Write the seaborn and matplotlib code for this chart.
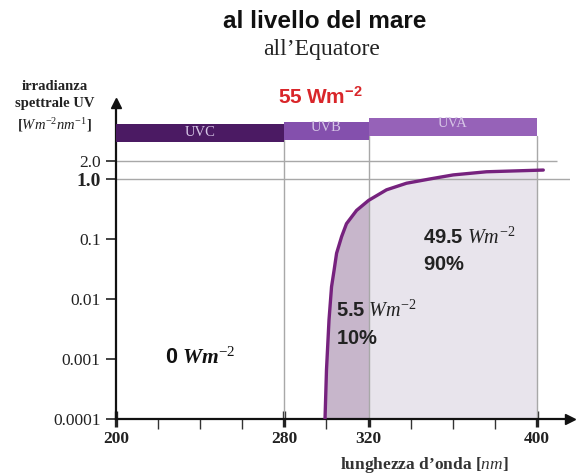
import numpy as np
import pandas as pd
import matplotlib
matplotlib.use("Agg")
import matplotlib.pyplot as plt
import seaborn as sns

# Spectral UV irradiance reaching sea level at the equator
wavelength = [299.3, 300.0, 301.2, 302.4, 303.6, 304.8, 307.2, 309.5, 314.3,
              320.0, 328.5, 338.0, 349.0, 360.2, 376.0, 400.0, 403.0]
irradiance = [0.0001, 0.00066, 0.0045, 0.016, 0.030, 0.058, 0.11, 0.18, 0.30,
              0.44, 0.66, 0.85, 1.0, 1.17, 1.32, 1.40, 1.41]

band_names = ["UVC", "UVB", "UVA"]
band_edges = [(200, 280), (280, 320), (320, 400)]
band_colors = ["#4b1a63", "#8450ad", "#9662b8"]

y_ticks = [0.0001, 0.001, 0.01, 0.1, 1.0, 2.0]
y_tick_labels = ["0.0001", "0.001", "0.01", "0.1", "1.0", "2.0"]
x_major = [200, 280, 320, 400]
x_minor = [220, 240, 260, 300, 340, 360, 380]

total_flux = "55"
uvc_flux = "0"
uvb_flux, uvb_share = "5.5", "10%"
uva_flux, uva_share = "49.5", "90%"

sns.set_style("white")
plt.rcParams.update({
    "font.family": ["Liberation Serif", "DejaVu Serif"],
    "mathtext.fontset": "custom",
    "mathtext.rm": "Liberation Serif",
    "mathtext.it": "Liberation Serif:italic",
    "mathtext.bf": "Liberation Sans:bold",
    "mathtext.bfit": "Liberation Serif:italic:bold",
    "mathtext.sf": "Liberation Sans",
})

df = pd.DataFrame({"wavelength": wavelength, "irradiance": irradiance})

fig = plt.figure(figsize=(5.78, 4.75), dpi=100)
ax = fig.add_axes([0.2007, 0.1179, 0.7855, 0.6653])
ax.set_yscale("log")
ax.set_xlim(200, 415.7)
ax.set_ylim(1e-4, 18.5)

# shaded areas under the curve
uvb = df[df.wavelength <= 320]
uva = df[(df.wavelength >= 320) & (df.wavelength <= 400)]
ax.fill_between(uvb.wavelength, 1e-4, uvb.irradiance, color="#c7b6cb", lw=0, zorder=1)
ax.fill_between(uva.wavelength, 1e-4, uva.irradiance, color="#e8e4ec", lw=0, zorder=1)

# reference lines
grid_kw = dict(color="#a8a8a8", lw=1.0, zorder=2)
ax.hlines(2.0, 200, 409.5, **grid_kw)
ax.hlines(1.0, 200, 415.7, **grid_kw)

# band bars along the top (vertical extent in axes fraction)
band_y = [(0.877, 0.934), (0.883, 0.940), (0.896, 0.953)]
label_dy = [0.0, 0.012, 0.012]
trans = ax.get_xaxis_transform()
for name, (x0, x1), color, (yb, yt), dy in zip(band_names, band_edges, band_colors,
                                                band_y, label_dy):
    ax.fill_between([x0, x1], yb, yt, color=color, transform=trans, lw=0, zorder=3)
    ax.text((x0 + x1) / 2, (yb + yt) / 2 + dy, name, transform=trans,
            ha="center", va="center", fontsize=10.5, color="#d6c6e6", zorder=4)
for (x0, x1), (yb, yt) in zip(band_edges[1:], band_y[1:]):
    ax.axvline(x0, ymax=yb, **grid_kw)
ax.axvline(band_edges[2][1], ymax=band_y[2][0], **grid_kw)

# irradiance curve
sns.lineplot(data=df, x="wavelength", y="irradiance", ax=ax, color="#76227e",
             lw=2.4, zorder=5, sort=False)

# axes styling
sns.despine(ax=ax)
for s in ("left", "bottom"):
    ax.spines[s].set_linewidth(1.6)
    ax.spines[s].set_color("#111111")
ax.plot(0, 1, "^", color="#111111", ms=7, transform=ax.transAxes, clip_on=False)
ax.plot(1, 0, ">", color="#111111", ms=7, transform=ax.transAxes, clip_on=False)

ax.set_yticks(y_ticks)
ax.set_yticklabels(y_tick_labels)
ax.yaxis.set_minor_locator(matplotlib.ticker.NullLocator())
ax.tick_params(axis="y", which="major", direction="out", length=7, width=1.2,
               pad=4, labelsize=12.5, colors="#222222", left=True)
for lab in ax.get_yticklabels():
    if lab.get_text() == "1.0":
        lab.set_fontweight("bold")
        lab.set_fontsize(14)

ax.set_xticks(x_major)
ax.set_xticks(x_minor, minor=True)
ax.set_xticklabels([str(v) for v in x_major], fontweight="bold")
ax.tick_params(axis="x", which="major", direction="inout", length=11, width=2.4,
               pad=3, labelsize=12.5, colors="#222222", bottom=True)
ax.tick_params(axis="x", which="minor", direction="out", length=7, width=1.0,
               colors="#333333", bottom=True)
ax.set_xlabel("")
ax.set_ylabel("")

# flux annotations
def pct(s):
    return rf"$\mathbf{{{s.replace('%', chr(92) + '%')}}}$"

ax.text(223.3, 0.00083, rf"$\mathbf{{{uvc_flux}}}\ \mathbfit{{Wm}}^{{-2}}$",
        fontsize=15.5, va="baseline", ha="left", color="#111111")
ax.text(304.6, 0.0050, rf"$\mathbf{{{uvb_flux}}}\ \mathit{{Wm}}^{{-2}}$",
        fontsize=14.5, va="baseline", ha="left", color="#222222", zorder=6)
ax.text(304.6, 0.00178, pct(uvb_share),
        fontsize=14.5, va="baseline", ha="left", color="#222222", zorder=6)
ax.text(345.8, 0.0826, rf"$\mathbf{{{uva_flux}}}\ \mathit{{Wm}}^{{-2}}$",
        fontsize=14.5, va="baseline", ha="left", color="#222222", zorder=6)
ax.text(345.8, 0.0304, pct(uva_share),
        fontsize=14.5, va="baseline", ha="left", color="#222222", zorder=6)

# titles and axis captions
fig.text(0.561, 0.954, "al livello del mare", ha="center", va="center",
         fontsize=17.5, fontweight="bold", family=["Liberation Sans", "DejaVu Sans"],
         color="#111111")
fig.text(0.556, 0.895, "all\u2019Equatore", ha="center", va="center",
         fontsize=17, color="#222222")
fig.text(0.555, 0.795, rf"$\mathbf{{{total_flux}\ Wm^{{-2}}}}$", ha="center",
         va="center", fontsize=15, color="#d9262a")
fig.text(0.095, 0.775, "irradianza\nspettrale UV\n[$\\mathit{Wm}^{-2}\\mathit{nm}^{-1}$]",
         ha="center", va="center", fontsize=10.5, fontweight="bold",
         linespacing=1.4, color="#222222")
fig.text(0.734, 0.022, "lunghezza d\u2019onda [$\\mathit{nm}$]", ha="center",
         va="center", fontsize=12.5, fontweight="bold", color="#333333")

fig.savefig("out.png", dpi=100)
